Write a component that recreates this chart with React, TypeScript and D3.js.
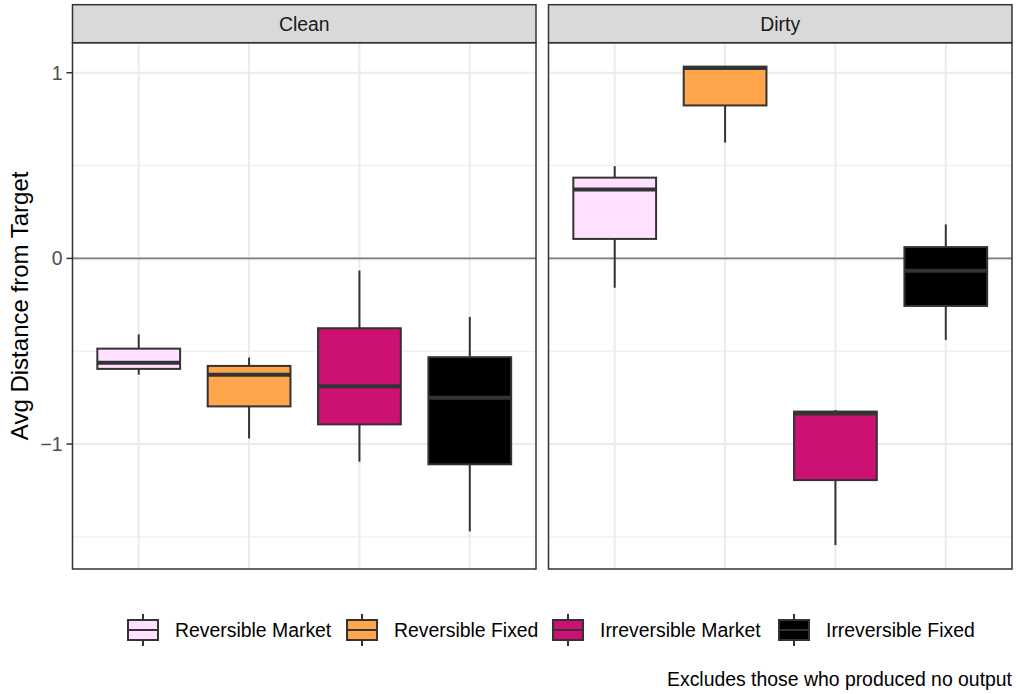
import React from "react";
import * as d3 from "d3";

// Facets, groups and their fills
const facets = ["Clean", "Dirty"];
const groups = ["Reversible Market", "Reversible Fixed", "Irreversible Market", "Irreversible Fixed"];
const groupFills = ["#FFE0FF", "#FFA64D", "#CC1173", "#000000"];

// Box summaries per facet, one value per group (same order as `groups`)
const cleanWhiskerLow = [-0.626, -0.97, -1.095, -1.47];
const cleanQ1 = [-0.595, -0.797, -0.894, -1.109];
const cleanMedian = [-0.562, -0.627, -0.688, -0.751];
const cleanQ3 = [-0.486, -0.579, -0.376, -0.532];
const cleanWhiskerHigh = [-0.409, -0.534, -0.065, -0.315];

const dirtyWhiskerLow = [-0.158, 0.624, -1.544, -0.439];
const dirtyQ1 = [0.105, 0.824, -1.194, -0.256];
const dirtyMedian = [0.371, 1.025, -0.835, -0.067];
const dirtyQ3 = [0.435, 1.033, -0.825, 0.061];
const dirtyWhiskerHigh = [0.497, 1.033, -0.817, 0.183];

// Axis ticks
const yMajorTicks = [-1, 0, 1];
const yTickLabels = ["\u22121", "0", "1"];
const yMinorTicks = [-1.5, -0.5, 0.5];

const yTitle = "Avg Distance from Target";
const caption = "Excludes those who produced no output";

const W = 1016;
const H = 694;
const stripTop = 4.7;
const panelTop = 42.7;
const panelBottom = 569;
const panelSpans: [number, number][] = [
  [72.5, 536],
  [548.5, 1012],
];
const FONT = "'Liberation Sans', Arial, Helvetica, sans-serif";
const small = 19.4;
const dark = "#333333";

type Stats = { lo: number; q1: number; med: number; q3: number; hi: number };

function facetStats(f: number): Stats[] {
  const src =
    f === 0
      ? [cleanWhiskerLow, cleanQ1, cleanMedian, cleanQ3, cleanWhiskerHigh]
      : [dirtyWhiskerLow, dirtyQ1, dirtyMedian, dirtyQ3, dirtyWhiskerHigh];
  return groups.map((_, i) => ({
    lo: src[0][i],
    q1: src[1][i],
    med: src[2][i],
    q3: src[3][i],
    hi: src[4][i],
  }));
}

const allValues = [
  ...cleanWhiskerLow,
  ...cleanWhiskerHigh,
  ...dirtyWhiskerLow,
  ...dirtyWhiskerHigh,
  ...dirtyQ3,
];
const [vMin, vMax] = d3.extent(allValues) as [number, number];
const pad = (vMax - vMin) * 0.05;

const y = d3.scaleLinear().domain([vMin - pad, vMax + pad]).range([panelBottom, panelTop]);

// legend layout: key left edges
const legendKeyLeft = [123, 342, 548, 774];
const legendKeySize = 40;
const legendCy = 630;

function Panel({ f }: { f: number }) {
  const [x0, x1] = panelSpans[f];
  const x = d3.scaleLinear().domain([0.4, groups.length + 0.6]).range([x0, x1]);
  const stats = facetStats(f);
  const halfW = x(1.375) - x(1);
  return (
    <g>
      {/* panel background */}
      <rect x={x0} y={panelTop} width={x1 - x0} height={panelBottom - panelTop} fill="#FFFFFF" />
      {/* minor grid */}
      {yMinorTicks.map((t) => (
        <line key={"mn" + t} x1={x0} x2={x1} y1={y(t)} y2={y(t)} stroke="#EBEBEB" strokeWidth={1} />
      ))}
      {/* major grid */}
      {yMajorTicks.map((t) => (
        <line key={"mj" + t} x1={x0} x2={x1} y1={y(t)} y2={y(t)} stroke="#EBEBEB" strokeWidth={2} />
      ))}
      {groups.map((g, i) => (
        <line key={"vx" + g} x1={x(i + 1)} x2={x(i + 1)} y1={panelTop} y2={panelBottom} stroke="#EBEBEB" strokeWidth={2} />
      ))}
      {/* reference line at zero */}
      <line x1={x0} x2={x1} y1={y(0)} y2={y(0)} stroke="#7F7F7F" strokeWidth={1.6} />
      {/* boxes */}
      {stats.map((s, i) => {
        const cx = x(i + 1);
        return (
          <g key={"box" + i}>
            <line x1={cx} x2={cx} y1={y(s.hi)} y2={y(s.q3)} stroke={dark} strokeWidth={2} />
            <line x1={cx} x2={cx} y1={y(s.q1)} y2={y(s.lo)} stroke={dark} strokeWidth={2} />
            <rect
              x={cx - halfW}
              y={y(s.q3)}
              width={halfW * 2}
              height={y(s.q1) - y(s.q3)}
              fill={groupFills[i]}
              stroke={dark}
              strokeWidth={2}
            />
            <line x1={cx - halfW} x2={cx + halfW} y1={y(s.med)} y2={y(s.med)} stroke={dark} strokeWidth={4} />
          </g>
        );
      })}
      {/* panel border */}
      <rect x={x0} y={panelTop} width={x1 - x0} height={panelBottom - panelTop} fill="none" stroke={dark} strokeWidth={1.5} />
      {/* strip */}
      <rect x={x0} y={stripTop} width={x1 - x0} height={panelTop - stripTop} fill="#D9D9D9" stroke={dark} strokeWidth={1.5} />
      <text
        x={(x0 + x1) / 2}
        y={(stripTop + panelTop) / 2 + small * 0.36}
        textAnchor="middle"
        fontFamily={FONT}
        fontSize={small}
        fill="#1A1A1A"
      >
        {facets[f]}
      </text>
    </g>
  );
}

export default function App() {
  const xLeft = panelSpans[0][0];
  return (
    <svg
      width={W}
      height={H}
      style={{ position: "absolute", left: 0, top: 0, background: "#FFFFFF" }}
    >
      <rect width={W} height={H} fill="#FFFFFF" />
      {facets.map((_, f) => (
        <Panel key={f} f={f} />
      ))}
      {/* y axis ticks */}
      {yMajorTicks.map((t, i) => (
        <g key={"yt" + t}>
          <line x1={xLeft - 6} x2={xLeft} y1={y(t)} y2={y(t)} stroke={dark} strokeWidth={1.5} />
          <text
            x={xLeft - 10}
            y={y(t) + small * 0.36}
            textAnchor="end"
            fontFamily={FONT}
            fontSize={small}
            fill="#4D4D4D"
          >
            {yTickLabels[i]}
          </text>
        </g>
      ))}
      <text
        transform={`translate(28,${(panelTop + panelBottom) / 2}) rotate(-90)`}
        textAnchor="middle"
        fontFamily={FONT}
        fontSize={24}
        fill="#000000"
      >
        {yTitle}
      </text>
      {/* legend */}
      {groups.map((g, i) => {
        const kx = legendKeyLeft[i];
        const cx = kx + legendKeySize / 2;
        const top = legendCy - legendKeySize / 2;
        const bw = legendKeySize * 0.75;
        return (
          <g key={"lg" + g}>
            <line x1={cx} x2={cx} y1={top + legendKeySize * 0.1} y2={top + legendKeySize * 0.9} stroke={dark} strokeWidth={2} />
            <rect
              x={cx - bw / 2}
              y={top + legendKeySize * 0.25}
              width={bw}
              height={legendKeySize * 0.5}
              fill={groupFills[i]}
              stroke={dark}
              strokeWidth={2}
            />
            <line x1={cx - bw / 2} x2={cx + bw / 2} y1={legendCy} y2={legendCy} stroke={dark} strokeWidth={2} />
            <text x={kx + legendKeySize + 12} y={legendCy + small * 0.36} fontFamily={FONT} fontSize={small} fill="#000000">
              {g}
            </text>
          </g>
        );
      })}
      <text x={1012} y={686} textAnchor="end" fontFamily={FONT} fontSize={small} fill="#000000">
        {caption}
      </text>
    </svg>
  );
}
